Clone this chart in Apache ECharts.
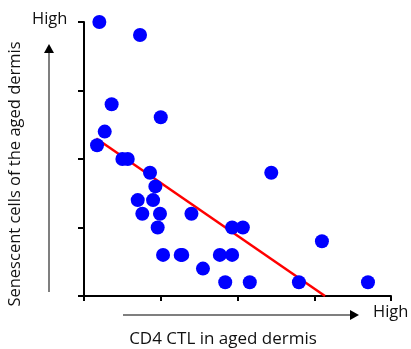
<!DOCTYPE html>
<html>
<head>
<meta charset="utf-8">
<script src="https://cdn.jsdelivr.net/npm/echarts@6/dist/echarts.min.js"></script>
<style>
  html, body { margin: 0; padding: 0; background: #fff; }
  #chart { width: 411px; height: 349px; }
</style>
</head>
<body>
<div id="chart"></div>
<script>
// CD4 CTL (x) vs senescent cells (y), arbitrary units 0..4
var ctlValues = [0.20, 0.73, 0.36, 0.27, 0.17, 1.00, 0.50, 0.57, 0.86, 0.93,
                 0.70, 0.90, 0.76, 0.99, 1.40, 0.96, 1.03, 1.26, 1.55,
                 2.44, 1.93, 2.07, 3.10, 1.28, 1.77, 1.93, 1.84, 2.16, 2.80, 3.70];
var senValues = [4.00, 3.81, 2.80, 2.40, 2.20, 2.61, 2.00, 2.00, 1.80, 1.60,
                 1.40, 1.40, 1.20, 1.20, 1.20, 1.00, 0.60, 0.60, 0.40,
                 1.80, 1.00, 1.00, 0.80, 0.60, 0.60, 0.60, 0.20, 0.20, 0.20, 0.20];
var fitX = [0.16, 3.14];
var fitY = [2.30, 0.00];
var axisTicks = [0, 1, 2, 3, 4];

var points = [];
for (var i = 0; i < ctlValues.length; i++) {
    points.push([ctlValues[i], senValues[i]]);
}
var fitLine = [[fitX[0], fitY[0]], [fitX[1], fitY[1]]];

var chart = echarts.init(document.getElementById('chart'));
var textFont = '"Open Sans", "Liberation Sans", sans-serif';

chart.setOption({
    animation: false,
    grid: { left: 84, right: 20, top: 22, bottom: 53 },
    xAxis: {
        type: 'value',
        min: axisTicks[0],
        max: axisTicks[axisTicks.length - 1],
        interval: 1,
        axisLine: { show: true, lineStyle: { color: '#000', width: 2 } },
        axisTick: { show: true, length: 5, lineStyle: { color: '#000', width: 2 } },
        axisLabel: { show: false },
        splitLine: { show: false }
    },
    yAxis: {
        type: 'value',
        min: axisTicks[0],
        max: axisTicks[axisTicks.length - 1],
        interval: 1,
        axisLine: { show: true, lineStyle: { color: '#000', width: 2 } },
        axisTick: { show: true, length: 6, lineStyle: { color: '#000', width: 2 } },
        axisLabel: { show: false },
        splitLine: { show: false }
    },
    series: [
        {
            type: 'line',
            data: fitLine,
            symbol: 'none',
            z: 2,
            lineStyle: { color: '#ff0000', width: 2.5 }
        },
        {
            type: 'scatter',
            data: points,
            symbolSize: 14,
            z: 3,
            itemStyle: { color: '#0000ff', opacity: 1 }
        }
    ],
    graphic: [
        // y-axis arrow
        { type: 'line', shape: { x1: 49, y1: 52, x2: 49, y2: 292 },
          style: { stroke: '#555', lineWidth: 1.5 } },
        { type: 'polygon', shape: { points: [[49, 44], [44, 53], [54, 53]] },
          style: { fill: '#000' } },
        // x-axis arrow
        { type: 'line', shape: { x1: 123, y1: 315, x2: 350, y2: 315 },
          style: { stroke: '#555', lineWidth: 1.5 } },
        { type: 'polygon', shape: { points: [[359, 315], [350, 310], [350, 320]] },
          style: { fill: '#000' } },
        // labels
        { type: 'text', left: 32, top: 11,
          style: { text: 'High', fontSize: 16.5, fontFamily: textFont, fill: '#111' } },
        { type: 'text', left: 373, top: 304,
          style: { text: 'High', fontSize: 16.5, fontFamily: textFont, fill: '#111' } },
        { type: 'text', x: 223, y: 339,
          style: { text: 'CD4 CTL in aged dermis', fontSize: 17, fontFamily: textFont, fill: '#111',
                   align: 'center', verticalAlign: 'middle' } },
        { type: 'text', x: 15, y: 174, rotation: Math.PI / 2,
          style: { text: 'Senescent cells of the aged dermis', fontSize: 16.5, fontFamily: textFont,
                   fill: '#111', align: 'center', verticalAlign: 'middle' } }
    ]
});
</script>
</body>
</html>
